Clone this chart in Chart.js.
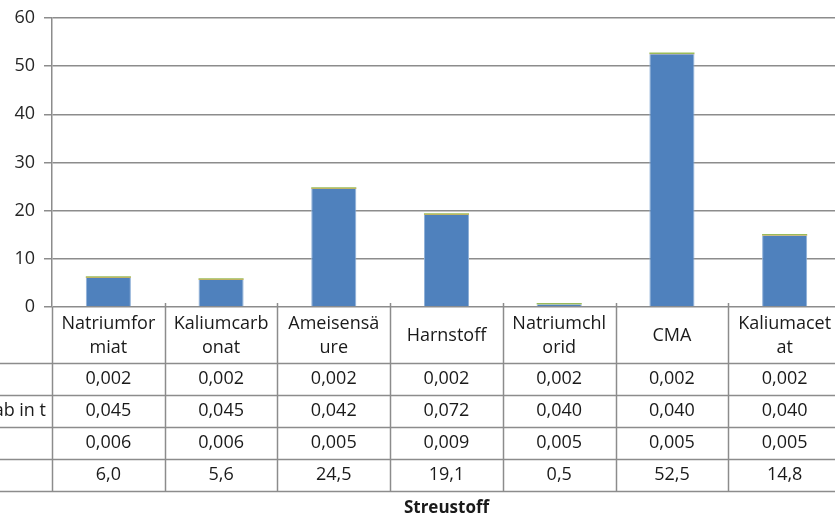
<!DOCTYPE html>
<html>
<head>
<meta charset="utf-8">
<script src="https://cdn.jsdelivr.net/npm/chart.js@4/dist/chart.umd.min.js"></script>
<style>
  html, body { margin: 0; padding: 0; background: #fff; overflow: hidden; }
  #wrap { width: 842px; height: 517px; }
</style>
</head>
<body>
<div id="wrap"><canvas id="c" width="842" height="517"></canvas></div>
<script>
// Streustoffe (Kategorien), Kopfzeile der Datentabelle mit Umbruch
const categories = [
  ['Natriumfor', 'miat'],
  ['Kaliumcarb', 'onat'],
  ['Ameisensä', 'ure'],
  ['Harnstoff'],
  ['Natriumchl', 'orid'],
  ['CMA'],
  ['Kaliumacet', 'at']
];

// Datenreihen (Zeilen der Datentabelle, von oben nach unten)
const row1Values = [0.002, 0.002, 0.002, 0.002, 0.002, 0.002, 0.002];
const row2Values = [0.045, 0.045, 0.042, 0.072, 0.040, 0.040, 0.040];
const row3Values = [0.006, 0.006, 0.005, 0.009, 0.005, 0.005, 0.005];
const row4Values = [6.0, 5.6, 24.5, 19.1, 0.5, 52.5, 14.8];

const rowLabels = ['', 'ab in t', '', ''];
const rowDecimals = [3, 3, 3, 1];

const yTicks = [0, 10, 20, 30, 40, 50, 60];
const axisTitle = 'Streustoff';

const FONT = '"Open Sans", "Noto Sans", sans-serif';
const LINE = '#8c8c8c';
const TEXT = '#1a1a1a';

const tableRows = [row1Values, row2Values, row3Values, row4Values];

function fmt(v, d) {
  return v.toLocaleString('de-DE', { minimumFractionDigits: d, maximumFractionDigits: d });
}

// Datentabelle unter der Kategorienachse
const dataTable = {
  id: 'dataTable',
  afterDraw(chart) {
    const ctx = chart.ctx;
    const x = chart.scales.x;
    const area = chart.chartArea;
    const n = categories.length;
    const colW = (area.right - area.left) / n;
    const top = area.bottom;
    const headerH = 56;
    const rowH = 32;
    const tableBottom = top + headerH + rowH * tableRows.length;

    ctx.save();
    ctx.strokeStyle = LINE;
    ctx.lineWidth = 1.5;

    // horizontale Linien
    for (let r = 0; r <= tableRows.length; r++) {
      const y = Math.round(top + headerH + r * rowH) + 0.5;
      ctx.beginPath();
      ctx.moveTo(0, y);
      ctx.lineTo(chart.width, y);
      ctx.stroke();
    }
    // vertikale Linien
    for (let i = 0; i <= n; i++) {
      const xx = Math.round(area.left + i * colW) + 0.5;
      ctx.beginPath();
      ctx.moveTo(xx, top - (i === 0 ? 0 : 4));
      ctx.lineTo(xx, tableBottom);
      ctx.stroke();
    }

    ctx.fillStyle = TEXT;
    ctx.font = '18px ' + FONT;
    ctx.textAlign = 'center';
    ctx.textBaseline = 'middle';

    // Kopfzeile
    categories.forEach((lines, i) => {
      const cx = x.getPixelForValue(i);
      const cy = top + headerH / 2 + 1;
      const lh = 24;
      const y0 = cy - (lines.length - 1) * lh / 2;
      lines.forEach((t, k) => ctx.fillText(t, cx, y0 + k * lh));
    });

    // Werte
    tableRows.forEach((vals, r) => {
      const cy = top + headerH + r * rowH + rowH / 2;
      vals.forEach((v, i) => {
        ctx.fillText(fmt(v, rowDecimals[r]), x.getPixelForValue(i), cy);
      });
      if (rowLabels[r]) {
        ctx.textAlign = 'right';
        ctx.fillText(rowLabels[r], area.left - 6, cy);
        ctx.textAlign = 'center';
      }
    });

    // Achsentitel
    ctx.font = 'bold 17px ' + FONT;
    ctx.fillText(axisTitle, (area.left + area.right) / 2, tableBottom + 17);
    ctx.restore();
  }
};

new Chart(document.getElementById('c'), {
  type: 'bar',
  data: {
    labels: categories.map(l => l.join('')),
    datasets: [
      { label: 'Reihe 4', data: row4Values, backgroundColor: '#4f81bd',
        borderColor: '#8fb0d8', borderWidth: { left: 1, right: 1 } },
      { label: 'Reihe 1', data: row1Values, backgroundColor: '#c0504d' },
      { label: 'Reihe 2', data: row2Values, backgroundColor: '#e46c0a' },
      { label: 'Reihe 3', data: row3Values, backgroundColor: '#9bbb59', minBarLength: 1.5 }
    ]
  },
  options: {
    responsive: false,
    animation: false,
    layout: { padding: { top: 7, bottom: 210, left: 0, right: 1 } },
    datasets: { bar: { categoryPercentage: 1, barPercentage: 0.4 } },
    plugins: { legend: { display: false }, tooltip: { enabled: false } },
    scales: {
      x: { stacked: true, display: false },
      y: {
        stacked: true,
        min: 0, max: 60,
        afterBuildTicks(scale) { scale.ticks = yTicks.map(v => ({ value: v })); },
        afterFit(scale) { scale.width = 52; },
        ticks: { font: { size: 18, family: FONT, lineHeight: 1 }, color: '#262626', padding: 9 },
        grid: { color: LINE, lineWidth: 1.5, tickLength: 8 },
        border: { color: LINE, width: 1.5 }
      }
    }
  },
  plugins: [dataTable]
});
</script>
</body>
</html>
